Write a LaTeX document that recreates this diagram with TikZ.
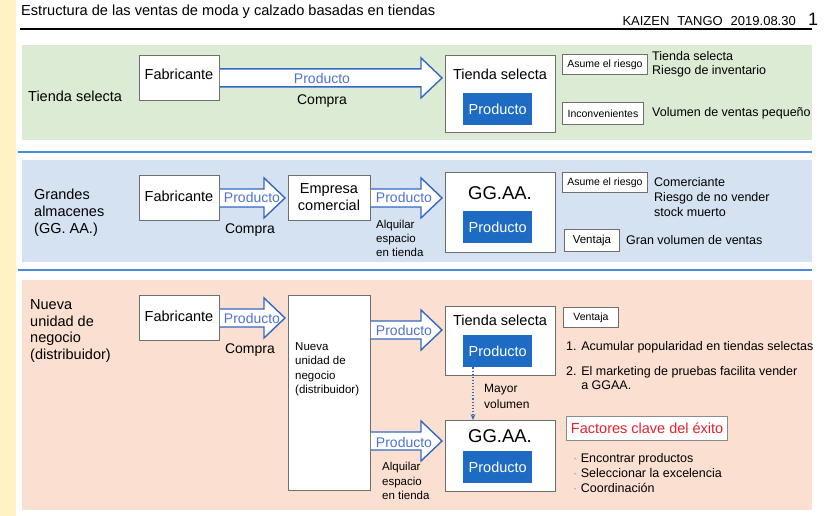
\documentclass[tikz,border=0pt]{standalone}
\usepackage{fontspec}
\setmainfont{Liberation Sans}
\usetikzlibrary{calc,arrows.meta}

\definecolor{cream}{HTML}{FFF3C4}
\definecolor{bandgreen}{HTML}{DCEBD4}
\definecolor{bandblue}{HTML}{D5E2F1}
\definecolor{bandsalmon}{HTML}{FBDFD1}
\definecolor{sepblue}{HTML}{4A8AD8}
\definecolor{boxgray}{HTML}{6E6E6E}
\definecolor{arrowblue}{HTML}{3467C4}
\definecolor{prodtext}{HTML}{4F72D4}
\definecolor{prodfill}{HTML}{1E6BC4}
\definecolor{keyred}{HTML}{E8202A}
\definecolor{dotgray}{HTML}{9A9A9A}

\newcommand\fs[2]{\fontsize{#1}{#2}\selectfont}

% wide outlined arrow from point #1 to point #2 (horizontal, at the height of #1)
\newcommand\fatarrow[2]{%
  \draw[fatarrow] let \p1=(#1), \p2=(#2) in
    (\x1,\y1+9pt) -- (\x2-21pt,\y1+9pt) -- (\x2-21pt,\y1+20pt) -- (\x2,\y1)
    -- (\x2-21pt,\y1-20pt) -- (\x2-21pt,\y1-9pt) -- (\x1,\y1-9pt);}

\tikzset{
  box/.style={draw=boxgray, fill=white, line width=0.9pt, inner sep=0pt, anchor=north west},
  prodbox/.style={fill=prodfill, text=white, inner sep=0pt, anchor=north west,
    minimum width=69pt, minimum height=32pt, font=\fs{14.5}{16}},
  tagbox/.style={box, align=center},
  fatarrow/.style={draw=arrowblue, fill=white, line width=1.4pt, line join=miter},
  lbl/.style={inner sep=0pt, anchor=west, align=left},
  boxtxt/.style={inner sep=0pt, font=\fs{14.5}{17}, align=center},
  arrtxt/.style={inner sep=0pt, text=prodtext, font=\fs{14}{16}},
  sep/.style={draw=sepblue, line width=1.6pt},
}

\begin{document}
\begin{tikzpicture}[x=1pt,y=-1pt]
\useasboundingbox (0,0) rectangle (837,516);

% page background
\fill[white] (0,0) rectangle (837,516);
\fill[cream] (0,0) rectangle (16,516);

% header
\node[lbl, font=\fs{14.6}{16}] (title) at (21,12) {Estructura de las ventas de moda y calzado basadas en tiendas};
\node[inner sep=0pt, anchor=east, font=\fs{13}{15}] (stamp) at (796,21) {KAIZEN\hspace{8pt}TANGO\hspace{8pt}2019.08.30};
\node[inner sep=0pt, font=\fs{18}{20}] (pagenum) at (813,19) {1};
\draw[line width=1.6pt] (20,29) -- (812,29);

% bands
\fill[bandgreen] (22,45) rectangle (812,140);
\draw[sep] (18,152) -- (812,152);
\fill[bandblue] (22,160) rectangle (812,262);
\draw[sep] (18,270) -- (812,270);
\fill[bandsalmon] (22,280) rectangle (812,510);

% ---------------- band 1: tienda selecta ----------------
\node[lbl, font=\fs{14.5}{17}] (row1) at (28,96) {Tienda selecta};
\node[box, minimum width=80pt, minimum height=45pt] (fab1) at (139,55) {};
\node[boxtxt] (fab1t) at (179,74) {Fabricante};
\node[box, minimum width=110pt, minimum height=77pt] (ts1) at (445,55) {};
\node[boxtxt] (ts1t) at (500,74) {Tienda selecta};
\node[prodbox] (prod1) at (463,93) {Producto};
\fatarrow{fab1.east}{$(ts1.west)+(-3,0)$}
\node[arrtxt] (a1t) at (322,78) {Producto};
\node[boxtxt, font=\fs{14}{16}] (a1c) at (322,101) {Compra};

\node[tagbox, minimum width=85pt, minimum height=20pt, font=\fs{10.5}{12}] (risk1) at (562,54) {Asume el riesgo};
\node[lbl, font=\fs{12.5}{14}] (risk1t) at (652,64) {Tienda selecta\\Riesgo de inventario};
\node[tagbox, minimum width=81pt, minimum height=22pt, font=\fs{10.5}{12}] (inc1) at (562,102) {Inconvenientes};
\node[lbl, font=\fs{12.5}{14}] (inc1t) at (652,113) {Volumen de ventas pequeño};

% ---------------- band 2: grandes almacenes ----------------
\node[lbl, font=\fs{14.5}{17}] (row2) at (34,213) {Grandes\\almacenes\\(GG. AA.)};
\node[box, minimum width=80pt, minimum height=45pt] (fab2) at (139,175) {};
\node[boxtxt] (fab2t) at (179,196) {Fabricante};
\node[box, minimum width=82pt, minimum height=45pt] (emp2) at (288,175) {};
\node[boxtxt, font=\fs{14.5}{17}] (emp2t) at (329,197) {Empresa\\comercial};
\node[box, minimum width=110pt, minimum height=80pt] (gg2) at (445,172) {};
\node[boxtxt, font=\fs{18.5}{20}] (gg2t) at (500,193) {GG.AA.};
\node[prodbox] (prod2) at (463,211) {Producto};
\fatarrow{fab2.east}{$(emp2.west)+(-3,0)$}
\node[arrtxt] (a2t) at (252,197) {Producto};
\node[boxtxt, font=\fs{14}{16}] (a2c) at (250,230) {Compra};
\fatarrow{emp2.east}{$(gg2.west |- emp2.east)+(-3,0)$}
\node[arrtxt] (a3t) at (404,197) {Producto};
\node[lbl, font=\fs{11.5}{14}] (a3c) at (376,238) {Alquilar\\espacio\\en tienda};

\node[tagbox, minimum width=85pt, minimum height=20pt, font=\fs{10.5}{12}] (risk2) at (562,172) {Asume el riesgo};
\node[lbl, font=\fs{12.5}{15}] (risk2t) at (654,197) {Comerciante\\Riesgo de no vender\\stock muerto};
\node[tagbox, minimum width=55pt, minimum height=22pt, font=\fs{11.5}{13}] (adv2) at (564,229) {Ventaja};
\node[lbl, font=\fs{12.5}{14}] (adv2t) at (626,240) {Gran volumen de ventas};

% ---------------- band 3: nueva unidad de negocio ----------------
\node[lbl, font=\fs{14.5}{16.7}] (row3) at (30,331) {Nueva\\unidad de\\negocio\\(distribuidor)};
\node[box, minimum width=80pt, minimum height=45pt] (fab3) at (139,295) {};
\node[boxtxt] (fab3t) at (179,316) {Fabricante};
\node[box, minimum width=82pt, minimum height=195pt] (nu3) at (288,295) {};
\node[lbl, font=\fs{11.5}{14.5}] (nu3t) at (295,369) {Nueva\\unidad de\\negocio\\(distribuidor)};
\fatarrow{fab3.east}{$(nu3.west |- fab3.east)+(-3,0)$}
\node[arrtxt] (a4t) at (252,318) {Producto};
\node[boxtxt, font=\fs{14}{16}] (a4c) at (250,350) {Compra};

\node[box, minimum width=110pt, minimum height=69pt] (ts3) at (445,306) {};
\node[boxtxt] (ts3t) at (500,320) {Tienda selecta};
\node[prodbox] (prod3a) at (463,335) {Producto};
\coordinate (nu3up) at ($(nu3.north east)+(0,35)$);
\fatarrow{nu3up}{$(ts3.west |- nu3up)+(-3,0)$}
\node[arrtxt] (a5t) at (404,330) {Producto};

\node[box, minimum width=110pt, minimum height=71pt] (gg3) at (445,420) {};
\node[boxtxt, font=\fs{18.5}{20}] (gg3t) at (500,436) {GG.AA.};
\node[prodbox] (prod3b) at (463,451) {Producto};
\coordinate (nu3low) at ($(nu3.north east)+(0,146)$);
\fatarrow{nu3low}{$(gg3.west |- nu3low)+(-3,0)$}
\node[arrtxt] (a6t) at (404,442) {Producto};
\node[lbl, font=\fs{11.5}{14.5}] (a6c) at (382,481) {Alquilar\\espacio\\en tienda};

% growth path from the select store to the department store
\coordinate (upfrom) at ($(prod3a.south west)+(10,0)$);
\draw[arrowblue, line width=1.1pt, dotted, -{Stealth[length=6pt,width=5pt]}] (upfrom) -- (upfrom |- gg3.north);
\node[lbl, font=\fs{12}{16}] (more3) at (484,396) {Mayor\\volumen};

\node[tagbox, minimum width=55pt, minimum height=20pt, font=\fs{10.5}{12}] (adv3) at (563,307) {Ventaja};
\node[lbl, font=\fs{12.5}{14}] (adv3a) at (566,347) {1. Acumular popularidad en tiendas selectas};
\node[lbl, font=\fs{12.5}{14}] (adv3b) at (566,378) {2. El marketing de pruebas facilita vender\\\phantom{2. }a GGAA.};

\node[tagbox, draw=boxgray!80, line width=1.3pt, minimum width=161pt, minimum height=24pt, text=keyred, font=\fs{14.5}{16}] (keys) at (566,416) {Factores clave del éxito};
\node[lbl, font=\fs{12.5}{15}] (keyst) at (573,473) {{\color{dotgray}·} Encontrar productos\\{\color{dotgray}·} Seleccionar la excelencia\\{\color{dotgray}·} Coordinación};

\end{tikzpicture}
\end{document}
